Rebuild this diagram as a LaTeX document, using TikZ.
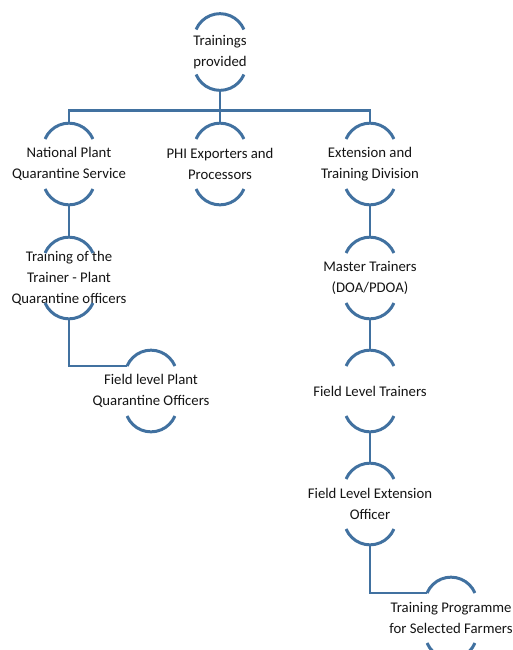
\documentclass[tikz,border=0pt]{standalone}
\usepackage{fontspec}
\setmainfont{Carlito}
\usetikzlibrary{positioning}
\definecolor{linkblue}{RGB}{65,113,160}
\definecolor{txtgray}{RGB}{20,20,20}

\begin{document}
\begin{tikzpicture}[
    x=0.02cm, y=0.02cm,
    stage/.style={rectangle, minimum width=1.16cm, minimum height=1.62cm, inner sep=0pt, align=center, font=\fontsize{8.4}{12}\selectfont, text=txtgray},
    link/.style={draw=linkblue, line width=1.7pt},
    rim/.style={draw=linkblue, line width=1.7pt}
]
\useasboundingbox (0,0) rectangle (513,-650);

\node[stage, minimum height=1.52cm] (root) at (220,-52) {Trainings\\provided};
\node[stage] (npqs) at (69,-164) {National Plant\\Quarantine Service};
\node[stage] (phi) at (220,-164) {PHI Exporters and\\Processors};
\node[stage] (ext) at (370,-164) {Extension and\\Training Division};
\node[stage] (tot) at (69,-278) {Training of the\\Trainer - Plant\\Quarantine officers};
\node[stage] (mt) at (370,-278) {Master Trainers\\(DOA/PDOA)};
\node[stage] (fpqo) at (151,-391) {Field level Plant\\Quarantine Officers};
\node[stage] (flt) at (370,-391) {Field Level Trainers};
\node[stage] (fleo) at (370,-504) {Field Level Extension\\Officer};
\node[stage] (tpsf) at (451,-618) {Training Programme\\for Selected Farmers};

% top and bottom rims of every stage
\foreach \n in {root,npqs,phi,ext,tot,mt,fpqo,flt,fleo,tpsf} {
  \draw[rim] (\n.north) ++(0,-26) ++(157:26) coordinate (\n-tl)
    arc[start angle=157, end angle=23, radius=26];
  \draw[rim] (\n.south) ++(0,26) ++(203:26)
    arc[start angle=203, end angle=337, radius=26];
}

\draw[link] (root.south) -- (phi.north);
\draw[link] (npqs.north) -- ++(0,13) -| (ext.north);
\draw[link] (npqs.south) -- (tot.north);
\draw[link] (tot.south) |- (fpqo-tl);
\draw[link] (ext.south) -- (mt.north);
\draw[link] (mt.south) -- (flt.north);
\draw[link] (flt.south) -- (fleo.north);
\draw[link] (fleo.south) |- (tpsf-tl);
\end{tikzpicture}
\end{document}
